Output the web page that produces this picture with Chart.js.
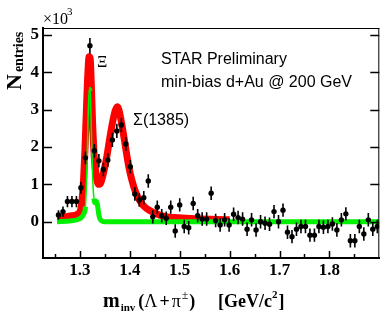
<!DOCTYPE html>
<html><head><meta charset="utf-8">
<script src="https://cdn.jsdelivr.net/npm/chart.js@4"></script>
<style>html,body{margin:0;padding:0;background:#fff;overflow:hidden}</style>
</head><body>
<canvas id="c" width="382" height="316" style="width:382px;height:316px;display:block"></canvas>
<script>
// ---- data (counts in units of 10^3) ----
const massBins = [1.257,1.266,1.275,1.284,1.293,1.302,1.311,1.320,1.329,1.338,1.347,1.356,1.365,1.374,1.383,1.392,1.401,1.410,1.419,1.428,1.437,1.446,1.455,1.464,1.473,1.482,1.491,1.500,1.509,1.518,1.527,1.536,1.545,1.554,1.563,1.572,1.581,1.590,1.599,1.608,1.617,1.626,1.635,1.644,1.653,1.662,1.671,1.680,1.689,1.698,1.707,1.716,1.725,1.734,1.743,1.752,1.761,1.770,1.779,1.788,1.797,1.806,1.815,1.824,1.833,1.842,1.851,1.860,1.869,1.878,1.887,1.896];
const entries = [0.18,0.27,0.54,0.54,0.54,0.91,1.71,4.71,1.90,1.63,1.40,1.65,2.19,2.43,2.59,2.08,1.47,0.74,0.58,0.64,1.09,0.13,0.39,0.16,0.09,0.39,-0.25,0.45,-0.13,-0.16,0.49,0.16,0.07,0.07,0.76,0.03,-0.09,0.05,-0.09,0.20,0.11,0.07,-0.20,0.05,-0.22,0.00,-0.04,-0.07,0.27,0.00,0.31,-0.28,-0.40,-0.20,-0.13,-0.13,-0.36,-0.36,-0.13,-0.15,-0.13,-0.06,-0.22,0.05,0.21,-0.51,-0.51,-0.13,-0.33,0.05,-0.20,-0.13];
const entryErrors = [0.13,0.14,0.15,0.15,0.15,0.16,0.17,0.21,0.18,0.18,0.18,0.18,0.19,0.19,0.19,0.19,0.18,0.18,0.18,0.18,0.18,0.18,0.18,0.18,0.18,0.18,0.18,0.18,0.18,0.18,0.18,0.18,0.18,0.18,0.18,0.18,0.18,0.18,0.18,0.18,0.18,0.18,0.18,0.18,0.18,0.18,0.18,0.18,0.18,0.18,0.18,0.18,0.18,0.18,0.18,0.18,0.18,0.18,0.18,0.18,0.18,0.18,0.18,0.18,0.18,0.18,0.18,0.18,0.18,0.18,0.18,0.18];
// total fit (red)
const totalFitMass = [1.254,1.270,1.285,1.296,1.302,1.306,1.310,1.313,1.316,1.3185,1.3205,1.323,1.3255,1.329,1.333,1.3375,1.342,1.348,1.354,1.360,1.366,1.371,1.375,1.379,1.384,1.389,1.394,1.399,1.404,1.410,1.416,1.423,1.431,1.440,1.452,1.467,1.490,1.530,1.600];
const totalFitValue = [0.10,0.13,0.16,0.21,0.35,0.85,1.9,3.0,4.0,4.42,4.38,3.6,2.6,1.7,1.2,1.0,1.05,1.35,1.75,2.25,2.7,2.98,3.08,2.95,2.6,2.2,1.78,1.4,1.12,0.85,0.66,0.5,0.38,0.3,0.22,0.15,0.11,0.08,0.05];
// Xi component (green)
const xiFitMass = [1.254,1.280,1.296,1.3035,1.308,1.311,1.3135,1.316,1.3185,1.3205,1.323,1.3255,1.328,1.3305,1.3335,1.3355,1.3375,1.340,1.344,1.350,1.45,1.60,1.75,1.90];
const xiFitValue = [0.0,0.02,0.06,0.12,0.22,0.4,1.2,2.6,3.55,3.5,2.4,1.2,0.62,0.5,0.54,0.42,0.22,0.08,0.02,0.0,0.0,0.0,0.0,0.0];
// ticks
const xMajorTicks = [1.3,1.4,1.5,1.6,1.7,1.8];
const xTickLabels = ['1.3','1.4','1.5','1.6','1.7','1.8'];
const xMinorTicks = [1.25,1.35,1.45,1.55,1.65,1.75,1.85];
const yTicks = [0,1,2,3,4,5];
const yTickLabels = ['0','1','2','3','4','5'];

const SERIF = '"Liberation Serif","Times New Roman",serif';
const SANS = '"Liberation Sans",Arial,sans-serif';

const errorBars = {
  id:'errorBars',
  beforeDatasetDraw(chart, args){
    if (chart.data.datasets[args.index].label !== 'data') return;
    const {ctx, scales:{x,y}} = chart;
    ctx.save();
    ctx.strokeStyle = '#000'; ctx.lineWidth = 1.6;
    ctx.beginPath();
    massBins.forEach((m,i)=>{
      const px = x.getPixelForValue(m);
      ctx.moveTo(px, y.getPixelForValue(entries[i]+entryErrors[i]));
      ctx.lineTo(px, y.getPixelForValue(entries[i]-entryErrors[i]));
    });
    ctx.stroke();
    ctx.restore();
  }
};

const frameAndText = {
  id:'frameAndText',
  afterDraw(chart){
    const {ctx, chartArea:a, scales:{x,y}} = chart;
    ctx.save();
    ctx.strokeStyle = '#000';
    // top and right frame
    ctx.lineWidth = 1;
    ctx.beginPath();
    ctx.moveTo(a.left, a.top+0.5); ctx.lineTo(a.right, a.top+0.5);
    ctx.moveTo(a.right-0.5, a.top); ctx.lineTo(a.right-0.5, a.bottom);
    ctx.stroke();
    // ticks
    ctx.lineWidth = 1.5;
    ctx.beginPath();
    yTicks.forEach(v=>{
      const py = Math.round(y.getPixelForValue(v))+0.5;
      ctx.moveTo(a.left, py); ctx.lineTo(a.left+9, py);
      ctx.moveTo(a.right, py); ctx.lineTo(a.right-9, py);
    });
    xMajorTicks.forEach(v=>{
      const px = Math.round(x.getPixelForValue(v))+0.5;
      ctx.moveTo(px, a.bottom); ctx.lineTo(px, a.bottom-7);
    });
    xMinorTicks.forEach(v=>{
      const px = Math.round(x.getPixelForValue(v))+0.5;
      ctx.moveTo(px, a.bottom); ctx.lineTo(px, a.bottom-4);
    });
    ctx.stroke();

    ctx.fillStyle = '#000';
    ctx.textBaseline = 'alphabetic';
    ctx.textAlign = 'left';
    // x10^3
    ctx.font = '16px ' + SERIF;
    ctx.fillText('\u00d710', 43, 24);
    ctx.font = '11px ' + SERIF;
    ctx.fillText('3', 67, 15);

    // annotations
    ctx.font = '16px ' + SANS;
    ctx.fillText('STAR Preliminary', 161, 64);
    ctx.fillText('min-bias d+Au @ 200 GeV', 161, 87);
    ctx.fillText('\u03a3(1385)', 133, 125);
    ctx.font = '16px ' + SERIF;
    ctx.fillText('\u039e', 97, 67);

    // y title (rotated)
    ctx.save();
    ctx.translate(21, 90);
    ctx.rotate(-Math.PI/2);
    ctx.font = 'bold 22px ' + SERIF;
    ctx.fillText('N', 0, 0);
    const nW = ctx.measureText('N').width;
    ctx.font = 'bold 14px ' + SERIF;
    ctx.fillText('entries', nW + 2, 2);
    ctx.restore();

    // x title
    const base = 307;
    let cx = 103;
    const put = (t, font, dy, gap) => {
      ctx.font = font;
      ctx.fillText(t, cx, base + dy);
      cx += ctx.measureText(t).width + (gap||0);
    };
    put('m', 'bold 20px ' + SERIF, 0, 1);
    put('inv', 'bold 11px ' + SERIF, 4, 3);
    put('(', 'bold 18px ' + SERIF, 0, 0);
    put('\u039b', '18px ' + SERIF, 0, 2);
    put('+', 'bold 18px ' + SERIF, 0, 2);
    put('\u03c0', '18px ' + SERIF, 0, 1);
    put('\u00b1', '12px ' + SERIF, -8, 1);
    put(')', 'bold 18px ' + SERIF, 0, 0);
    cx = 218;
    put('[GeV/c', 'bold 18px ' + SERIF, 0, 0);
    put('2', 'bold 11px ' + SERIF, -9, 1);
    put(']', 'bold 18px ' + SERIF, 0, 0);
    ctx.restore();
  }
};

const toXY = (xs, ys) => xs.map((v,i)=>({x:v, y:ys[i]}));

new Chart(document.getElementById('c'), {
  type:'scatter',
  data:{
    datasets:[
      { label:'data', data: toXY(massBins, entries), order:0,
        pointRadius:2.7, pointHoverRadius:2.7, pointBackgroundColor:'#000', pointBorderWidth:0, showLine:false },
      { label:'xi', data: toXY(xiFitMass, xiFitValue), order:1, showLine:true,
        borderColor:'#00f000', borderWidth:5, pointRadius:0, fill:false, cubicInterpolationMode:'monotone',
        borderJoinStyle:'round',
        segment:{ borderWidth: c => Math.abs(c.p1.y-c.p0.y) > 8*Math.abs(c.p1.x-c.p0.x) ? 1.5 : 5 } },
      { label:'total', data: toXY(totalFitMass, totalFitValue), order:2, showLine:true,
        borderColor:'#ff0000', borderWidth:7, pointRadius:0, fill:false, cubicInterpolationMode:'monotone',
        borderJoinStyle:'round' }
    ]
  },
  options:{
    responsive:false, animation:false, devicePixelRatio:1,
    layout:{padding:{top:28, right:2, left:0, bottom:0}},
    plugins:{legend:{display:false}, tooltip:{enabled:false}},
    scales:{
      x:{ type:'linear', min:1.226, max:1.9,
        grid:{display:false, drawTicks:false},
        border:{display:true, color:'#000', width:2},
        afterBuildTicks: s => { s.ticks = xMajorTicks.map(v=>({value:v})); },
        afterFit: s => { s.height = 58; },
        ticks:{ autoSkip:false, maxRotation:0, padding:2, color:'#000',
          font:{family:SERIF, weight:'bold', size:17},
          callback:(v,i)=>xTickLabels[i] } },
      y:{ type:'linear', min:-0.972, max:5.187,
        grid:{display:false, drawTicks:false},
        border:{display:true, color:'#000', width:2},
        afterBuildTicks: s => { s.ticks = yTicks.map(v=>({value:v})); },
        afterFit: s => { s.width = 43; },
        ticks:{ autoSkip:false, padding:4, color:'#000',
          font:{family:SERIF, weight:'bold', size:17},
          callback:(v,i)=>yTickLabels[i] } }
    }
  },
  plugins:[errorBars, frameAndText]
});
</script>
</body></html>
